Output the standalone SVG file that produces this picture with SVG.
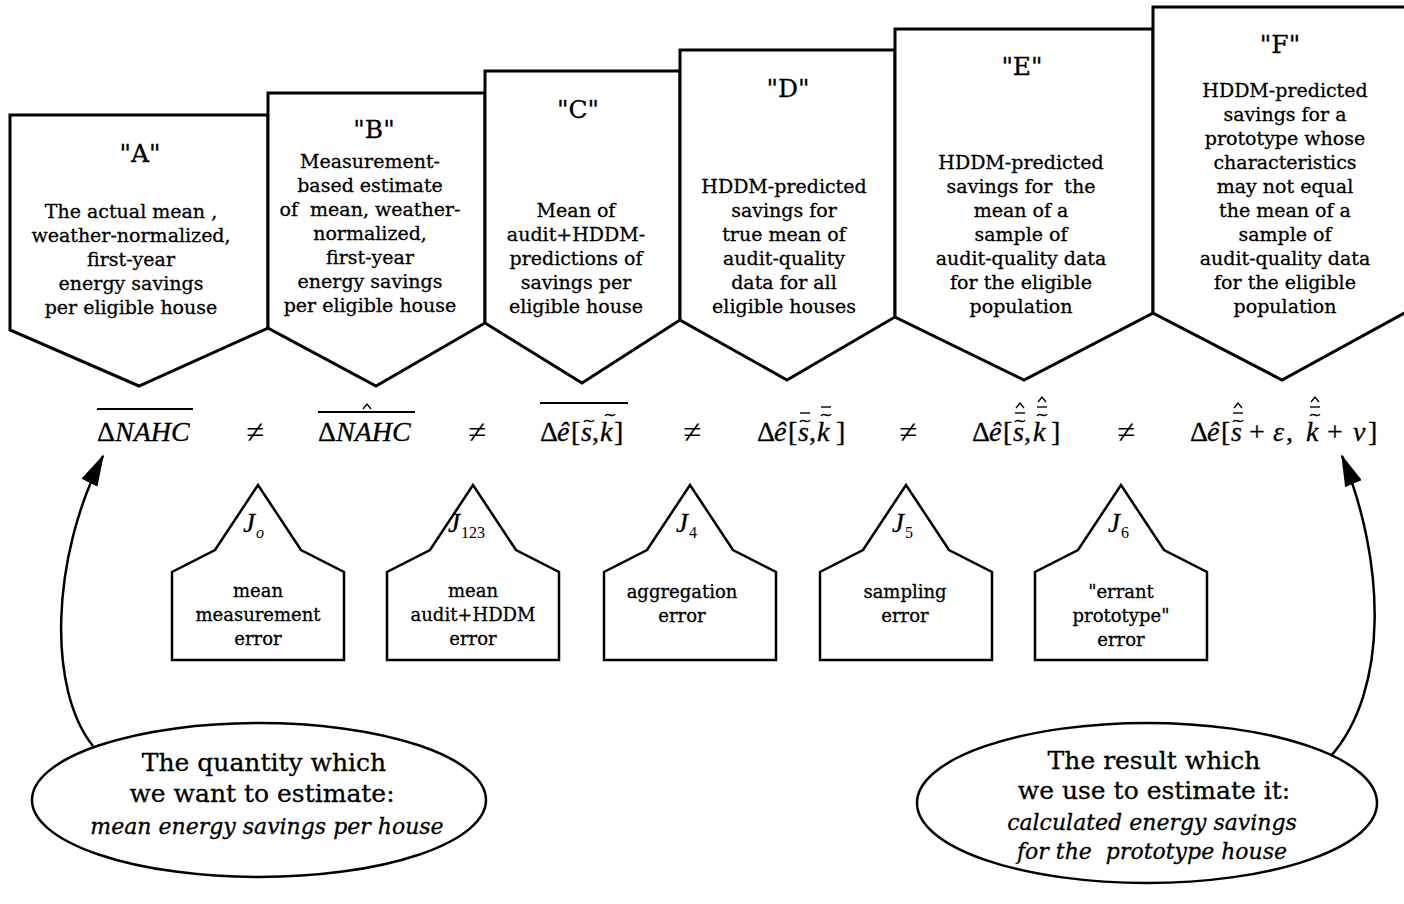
<svg xmlns="http://www.w3.org/2000/svg" xmlns:xlink="http://www.w3.org/1999/xlink" width="1404" height="904" viewBox="0 0 1404 904">
<defs>
<style>
.sh{fill:#fff;stroke:#000;stroke-width:3;stroke-linejoin:miter}
.jb{fill:#fff;stroke:#000;stroke-width:2.5;stroke-linejoin:miter}
.el{fill:#fff;stroke:#000;stroke-width:2.5}
.t{font-family:"DejaVu Serif","Liberation Serif",serif;font-size:19px;text-anchor:middle;fill:#000;stroke:#000;stroke-width:0.3}
.ti{font-family:"DejaVu Serif","Liberation Serif",serif;font-size:25px;text-anchor:middle;fill:#000;stroke:#000;stroke-width:0.3}
.jt{font-family:"DejaVu Serif","Liberation Serif",serif;font-size:18px;text-anchor:middle;fill:#000;stroke:#000;stroke-width:0.3}
.et{font-family:"DejaVu Serif","Liberation Serif",serif;font-size:25px;text-anchor:middle;fill:#000;stroke:#000;stroke-width:0.3}
.ei{font-family:"DejaVu Serif","Liberation Serif",serif;font-size:22px;font-style:italic;text-anchor:middle;fill:#000;stroke:#000;stroke-width:0.3}
.m{font-family:"Liberation Serif","Times New Roman",serif;font-size:28px;fill:#000;stroke:#000;stroke-width:0.3}
.mi{font-family:"Liberation Serif","Times New Roman",serif;font-size:28px;font-style:italic;fill:#000;stroke:#000;stroke-width:0.3}
.ne{font-family:"Liberation Serif","DejaVu Serif",serif;font-size:33px;text-anchor:middle;fill:#000}
.J{font-family:"Liberation Serif","Times New Roman",serif;font-size:27px;font-style:italic;fill:#000;stroke:#000;stroke-width:0.3}
.js{font-family:"Liberation Serif","Times New Roman",serif;font-size:16px;fill:#000}
.ov{stroke:#000;stroke-width:1.8;fill:none}
.ac{stroke:#000;stroke-width:1.4;fill:none}
.cn{fill:none;stroke:#000;stroke-width:2.5}
</style>
<marker id="ah" markerUnits="userSpaceOnUse" markerWidth="32" markerHeight="18" viewBox="0 0 32 18" refX="30" refY="9" orient="auto">
<path d="M0,0 L32,9 L0,18 Z" fill="#000"/>
</marker>
<path id="tl" d="M-5,1 C-2,-4 2,4 5,-1" class="ac"/>
<path id="br" d="M-5,0 H5" class="ac"/>
<path id="ht" d="M-4,2 L0,-3 L4,2" class="ac"/>
</defs>

<g id="node-A">
<path class="sh" d="M10,115 H268 V328 L139,386 L10,330 Z"/>
<text class="ti" x="140" y="162">"A"</text>
<text class="t" xml:space="preserve"><tspan x="131" y="218">The actual mean ,</tspan><tspan x="131" y="242">weather-normalized,</tspan><tspan x="131" y="266">first-year</tspan><tspan x="131" y="290">energy savings</tspan><tspan x="131" y="314">per eligible house</tspan></text>
</g>
<g id="node-B">
<path class="sh" d="M268,93 H485 V323 L376,386 L268,328 Z"/>
<text class="ti" x="374" y="138">"B"</text>
<text class="t" xml:space="preserve"><tspan x="370" y="168">Measurement-</tspan><tspan x="370" y="192">based estimate</tspan><tspan x="370" y="216">of  mean, weather-</tspan><tspan x="370" y="240">normalized,</tspan><tspan x="370" y="264">first-year</tspan><tspan x="370" y="288">energy savings</tspan><tspan x="370" y="312">per eligible house</tspan></text>
</g>
<g id="node-C">
<path class="sh" d="M485,71 H680 V320 L582,383 L485,323 Z"/>
<text class="ti" x="578" y="118">"C"</text>
<text class="t"><tspan x="576" y="217">Mean of</tspan><tspan x="576" y="241">audit+HDDM-</tspan><tspan x="576" y="265">predictions of</tspan><tspan x="576" y="289">savings per</tspan><tspan x="576" y="313">eligible house</tspan></text>
</g>
<g id="node-D">
<path class="sh" d="M680,50 H895 V317 L787,380 L680,320 Z"/>
<text class="ti" x="788" y="97">"D"</text>
<text class="t"><tspan x="784" y="193">HDDM-predicted</tspan><tspan x="784" y="217">savings for</tspan><tspan x="784" y="241">true mean of</tspan><tspan x="784" y="265">audit-quality</tspan><tspan x="784" y="289">data for all</tspan><tspan x="784" y="313">eligible houses</tspan></text>
</g>
<g id="node-E">
<path class="sh" d="M895,29 H1153 V313 L1024,380 L895,317 Z"/>
<text class="ti" x="1022" y="75">"E"</text>
<text class="t" xml:space="preserve"><tspan x="1021" y="169">HDDM-predicted</tspan><tspan x="1021" y="193">savings for  the</tspan><tspan x="1021" y="217">mean of a</tspan><tspan x="1021" y="241">sample of</tspan><tspan x="1021" y="265">audit-quality data</tspan><tspan x="1021" y="289">for the eligible</tspan><tspan x="1021" y="313">population</tspan></text>
</g>
<g id="node-F">
<path class="sh" d="M1153,7 H1410 V310 L1282,380 L1153,313 Z"/>
<text class="ti" x="1280" y="53">"F"</text>
<text class="t"><tspan x="1285" y="97">HDDM-predicted</tspan><tspan x="1285" y="121">savings for a</tspan><tspan x="1285" y="145">prototype whose</tspan><tspan x="1285" y="169">characteristics</tspan><tspan x="1285" y="193">may not equal</tspan><tspan x="1285" y="217">the mean of a</tspan><tspan x="1285" y="241">sample of</tspan><tspan x="1285" y="265">audit-quality data</tspan><tspan x="1285" y="289">for the eligible</tspan><tspan x="1285" y="313">population</tspan></text>
</g>

<g id="formulas">
<text class="m" x="97" y="441">Δ<tspan class="mi">NAHC</tspan></text>
<line class="ov" x1="97" y1="409" x2="193" y2="409"/>
<text class="ne" x="255" y="443">≠</text>
<text class="m" x="318" y="441">Δ<tspan class="mi">NAHC</tspan></text>
<line class="ov" x1="318" y1="412" x2="415" y2="412"/>
<use xlink:href="#ht" x="367" y="407"/>
<text class="ne" x="477" y="443">≠</text>

<text class="m" x="540" y="441">Δ</text><text class="mi" x="557" y="441">ê</text><text class="m" x="571" y="441">[</text><text class="mi" x="581" y="441">s</text><text class="m" x="592" y="441">,</text><text class="mi" x="600" y="441">k</text><text class="m" x="614" y="441">]</text>
<use xlink:href="#tl" x="589" y="421"/>
<use xlink:href="#tl" x="610" y="415"/>
<line class="ov" x1="540" y1="403" x2="628" y2="403"/>
<text class="ne" x="692" y="443">≠</text>

<text class="m" x="757" y="441">Δ</text><text class="mi" x="774" y="441">ê</text><text class="m" x="788" y="441">[</text><text class="mi" x="798" y="441">s</text><text class="m" x="809" y="441">,</text><text class="mi" x="817" y="441">k</text><text class="m" x="836" y="441">]</text>
<use xlink:href="#tl" x="805" y="421"/>
<use xlink:href="#br" x="805" y="413"/>
<use xlink:href="#tl" x="826" y="415"/>
<use xlink:href="#br" x="826" y="407"/>
<text class="ne" x="908" y="443">≠</text>

<text class="m" x="972" y="441">Δ</text><text class="mi" x="989" y="441">ê</text><text class="m" x="1003" y="441">[</text><text class="mi" x="1013" y="441">s</text><text class="m" x="1024" y="441">,</text><text class="mi" x="1033" y="441">k</text><text class="m" x="1051" y="441">]</text>
<use xlink:href="#tl" x="1020" y="421"/>
<use xlink:href="#br" x="1020" y="413"/>
<use xlink:href="#ht" x="1020" y="406"/>
<use xlink:href="#tl" x="1042" y="415"/>
<use xlink:href="#br" x="1042" y="407"/>
<use xlink:href="#ht" x="1042" y="400"/>
<text class="ne" x="1126" y="443">≠</text>

<text class="m" x="1190" y="441">Δ</text><text class="mi" x="1207" y="441">ê</text><text class="m" x="1221" y="441">[</text><text class="mi" x="1231" y="441">s</text><text class="m" x="1249" y="441">+</text><text class="mi" x="1273" y="441">ε</text><text class="m" x="1286" y="441">,</text><text class="mi" x="1306" y="441">k</text><text class="m" x="1327" y="441">+</text><text class="mi" x="1353" y="441">ν</text><text class="m" x="1368" y="441">]</text>
<use xlink:href="#tl" x="1238" y="421"/>
<use xlink:href="#br" x="1238" y="413"/>
<use xlink:href="#ht" x="1238" y="406"/>
<use xlink:href="#tl" x="1315" y="415"/>
<use xlink:href="#br" x="1315" y="407"/>
<use xlink:href="#ht" x="1315" y="400"/>
</g>

<g id="node-J0">
<path class="jb" d="M172,660 V572 L215,550 L258,485 L301,550 L344,572 V660 Z"/>
<text class="J" x="243" y="532">J</text><text class="js" x="256" y="538" font-style="italic">o</text>
<text class="jt"><tspan x="258" y="597">mean</tspan><tspan x="258" y="621">measurement</tspan><tspan x="258" y="645">error</tspan></text>
</g>
<g id="node-J123">
<path class="jb" d="M387,660 V572 L430,550 L473,485 L516,550 L559,572 V660 Z"/>
<text class="J" x="448" y="532">J</text><text class="js" x="461" y="538">123</text>
<text class="jt"><tspan x="473" y="597">mean</tspan><tspan x="473" y="621">audit+HDDM</tspan><tspan x="473" y="645">error</tspan></text>
</g>
<g id="node-J4">
<path class="jb" d="M604,660 V572 L647,550 L690,485 L733,550 L776,572 V660 Z"/>
<text class="J" x="676" y="532">J</text><text class="js" x="689" y="538">4</text>
<text class="jt"><tspan x="682" y="598">aggregation</tspan><tspan x="682" y="622">error</tspan></text>
</g>
<g id="node-J5">
<path class="jb" d="M820,660 V572 L863,550 L906,485 L949,550 L992,572 V660 Z"/>
<text class="J" x="892" y="532">J</text><text class="js" x="905" y="538">5</text>
<text class="jt"><tspan x="905" y="598">sampling</tspan><tspan x="905" y="622">error</tspan></text>
</g>
<g id="node-J6">
<path class="jb" d="M1035,660 V572 L1078,550 L1121,485 L1164,550 L1207,572 V660 Z"/>
<text class="J" x="1108" y="532">J</text><text class="js" x="1121" y="538">6</text>
<text class="jt"><tspan x="1121" y="598">"errant</tspan><tspan x="1121" y="622">prototype"</tspan><tspan x="1121" y="646">error</tspan></text>
</g>

<g id="connectors">
<path class="cn" d="M93,746 C48,690 50,560 103,456" marker-end="url(#ah)"/>
<path class="cn" d="M1330,757 C1390,690 1385,560 1342,456" marker-end="url(#ah)"/>
</g>

<g id="node-quantity">
<ellipse class="el" cx="259" cy="800" rx="227" ry="77"/>
<text class="et"><tspan x="264" y="771">The quantity which</tspan><tspan x="262" y="802">we want to estimate:</tspan></text>
<text class="ei" x="267" y="834">mean energy savings per house</text>
</g>
<g id="node-result">
<ellipse class="el" cx="1147" cy="803" rx="230" ry="80"/>
<text class="et"><tspan x="1154" y="769">The result which</tspan><tspan x="1154" y="799">we use to estimate it:</tspan></text>
<text class="ei" xml:space="preserve"><tspan x="1152" y="830">calculated energy savings</tspan><tspan x="1152" y="859">for the  prototype house</tspan></text>
</g>
</svg>
